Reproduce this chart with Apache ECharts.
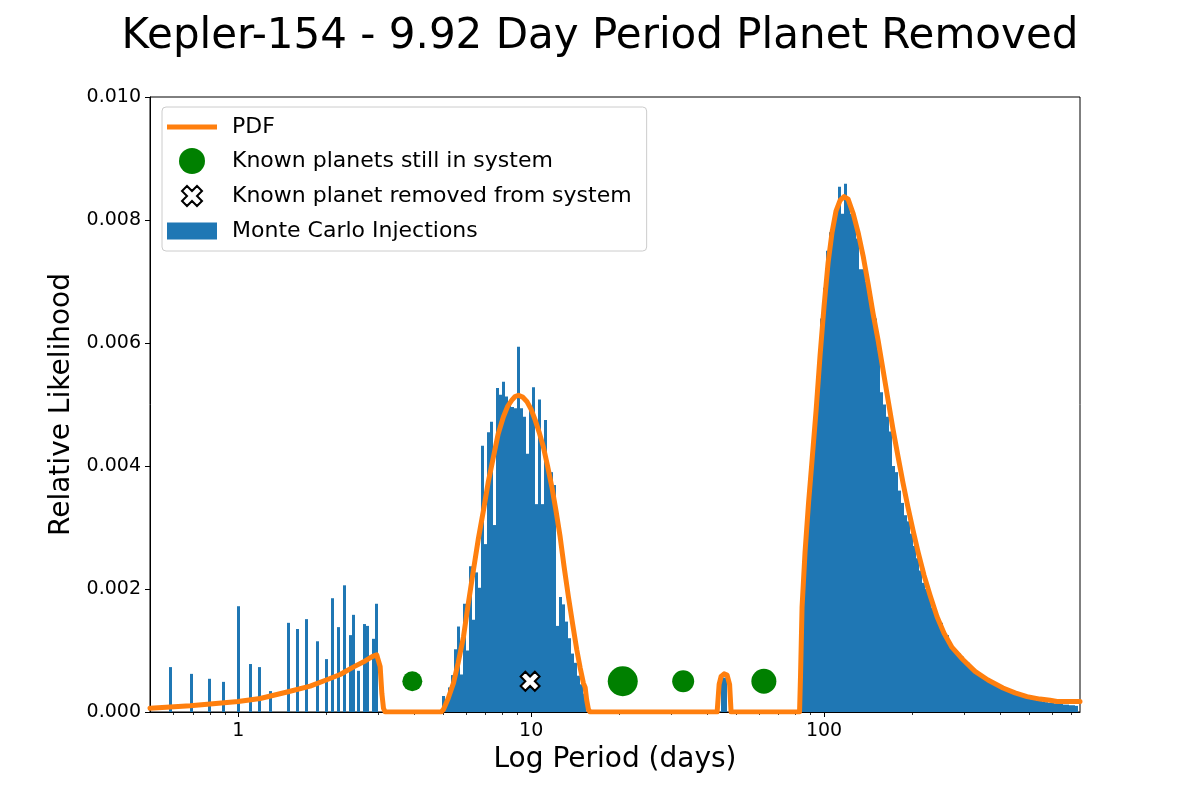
<!DOCTYPE html>
<html><head><meta charset="utf-8">
<script src="https://cdn.jsdelivr.net/npm/echarts@6/dist/echarts.min.js"></script>
<style>html,body{margin:0;padding:0;background:#fff}#chart{width:1200px;height:800px}</style>
</head><body><div id="chart"></div>
<script>
// ---------------- data ----------------
// Histogram bin width in log10(period days)
const BIN_DEX = 0.010239;

// Sparse short-period injections: bin centre period (days) and height
const leftBarPeriods = [0.587, 0.695, 0.798, 0.891, 1.002, 1.102, 1.182, 1.289, 1.485, 1.594, 1.711, 1.865,
  2.001, 2.098, 2.199, 2.306, 2.416, 2.475, 2.574, 2.698, 2.763, 2.896, 2.965];
const leftBarHeights = [0.00073, 0.00062, 0.00054, 0.00049, 0.00172, 0.00078, 0.00073, 0.00034, 0.00145, 0.00135, 0.00151, 0.00115,
  0.00086, 0.00185, 0.00138, 0.00206, 0.00125, 0.00158, 0.00067, 0.00143, 0.00140, 0.00119, 0.00176];

// Contiguous bins around 10 days: left edge of first bin (days) and heights
const midBinStart = 4.969;
const midBarHeights = [0.00026, 0.00020, 0.00040, 0.00060, 0.00102, 0.00139, 0.00061, 0.00176, 0.00100, 0.00237,
  0.00150, 0.00227, 0.00202, 0.00433, 0.00273, 0.00455, 0.00472, 0.00304, 0.00527, 0.00516,
  0.00537, 0.00513, 0.00505, 0.00496, 0.00494, 0.00594, 0.00494, 0.00480, 0.00420, 0.00497,
  0.00528, 0.00338, 0.00508, 0.00338, 0.00475, 0.00400, 0.00390, 0.00369, 0.00140, 0.00187,
  0.00175, 0.00147, 0.00120, 0.00095, 0.00080, 0.00059, 0.00045, 0.00030];

// Small group near 45 days
const bumpBinStart = 44.50;
const bumpBarHeights = [0.00056, 0.00056];

// Contiguous bins around 100 days
const rightBinStart = 82.15;
const rightBarHeights = [0.0009, 0.0020, 0.0030, 0.0034, 0.0041, 0.0048, 0.0055, 0.0064, 0.0069, 0.0075,
  0.0078, 0.0080, 0.0082, 0.00854, 0.0081, 0.00859, 0.0083, 0.0081, 0.0080, 0.0077,
  0.0072, 0.0072, 0.0070, 0.0069, 0.0066, 0.0064, 0.0059, 0.0052, 0.0050, 0.0048,
  0.00456, 0.0040, 0.0039, 0.0036, 0.0034, 0.0032, 0.0031, 0.0029, 0.0027, 0.0025,
  0.0023, 0.0021, 0.0020, 0.0019, 0.0017, 0.0016, 0.0015, 0.00145, 0.0013, 0.00125,
  0.0011, 0.00105, 0.0010, 0.00095, 0.0009, 0.00083, 0.0008, 0.00072, 0.0007, 0.00065,
  0.0006, 0.00055, 0.00054, 0.0005, 0.00048, 0.00044, 0.00042, 0.0004, 0.00037, 0.00035,
  0.00032, 0.0003, 0.00028, 0.00027, 0.00025, 0.00024, 0.00022, 0.00021, 0.0002, 0.00019,
  0.00018, 0.00017, 0.00016, 0.00015, 0.00015, 0.00014, 0.00013, 0.00013, 0.00012, 0.00012,
  0.00011, 0.00011, 0.0001];

// PDF curve
const pdfPeriods = [0.5, 0.5861, 0.6857, 0.8025, 1.0, 1.189, 1.481, 1.761, 1.997, 2.229, 2.470, 2.713, 2.866, 2.970,
  3.052, 3.094, 3.133, 3.175,
  4.930, 5.020, 5.209, 5.431, 5.636, 5.875, 6.097, 6.356, 6.595, 6.876, 7.134, 7.437, 7.716, 8.044, 8.314,
  8.593, 8.819, 9.051, 9.354, 9.668, 10.0, 10.32, 10.65, 11.01, 11.38, 11.77, 12.17, 12.56, 12.96, 13.41,
  13.86, 14.32, 14.70, 15.08, 15.29, 15.47, 15.69, 15.90,
  43.15, 43.83, 44.52, 45.58, 46.67, 47.59, 48.15,
  82.47, 83.12, 84.11, 86.11, 88.51, 91.01, 93.91, 96.91, 100.0, 103.19, 106.49, 109.89, 113.40, 117.03,
  120.78, 125.61, 130.65, 135.88, 141.30, 146.98, 152.86, 159.02, 165.40, 172.02, 178.91, 186.08, 193.54,
  201.30, 209.39, 219.48, 230.03, 243.06, 256.79, 273.42, 298.21, 327.63, 362.74, 408.19, 448.69, 493.03,
  546.0, 590.6, 624.0, 747.6];
const pdfValues = [0.00006, 0.00008, 0.00010, 0.00013, 0.00017, 0.00022, 0.00033, 0.00042, 0.00052, 0.00061, 0.00073, 0.00083, 0.00090, 0.00093,
  0.00074, 0.00030, 0.00006, 0,
  0, 0.00004, 0.00022, 0.00047, 0.00080, 0.00122, 0.00175, 0.00231, 0.00280, 0.00328, 0.00373, 0.00415, 0.00452, 0.00480, 0.00497,
  0.00507, 0.00513, 0.00515, 0.00512, 0.00505, 0.00492, 0.00475, 0.00455, 0.00431, 0.00400, 0.00366, 0.00326, 0.00285, 0.00236, 0.00187,
  0.00143, 0.00101, 0.00072, 0.00047, 0.00040, 0.00020, 0.00004, 0,
  0, 0.00045, 0.00058, 0.00062, 0.00060, 0.00045, 0,
  0, 0.0006, 0.0017, 0.0026, 0.0034, 0.0041, 0.0049, 0.0058, 0.0066, 0.00730, 0.00780, 0.00815, 0.00832, 0.00838,
  0.00834, 0.00811, 0.00780, 0.00742, 0.00697, 0.00648, 0.00605, 0.00556, 0.00507, 0.00459, 0.00415, 0.00372, 0.00332,
  0.00295, 0.00260, 0.00222, 0.00190, 0.00155, 0.00128, 0.00105, 0.00085, 0.00066, 0.00052, 0.00039, 0.00031, 0.00025,
  0.00021, 0.00019, 0.00017, 0.00017];

// Known planets (days)
const planetPeriods = [3.93, 20.55, 33.04, 62.30];
const removedPlanetPeriods = [9.92];
const planetMarkerLevel = 0.0005;

// Axis ticks
const yTicks = [0, 0.002, 0.004, 0.006, 0.008, 0.010];
const xMajorTicks = [1, 10, 100];
const xMinorTicks = [0.6, 0.7, 0.8, 0.9, 2, 3, 4, 5, 6, 7, 8, 9, 20, 30, 40, 50, 60, 70, 80, 90,
  200, 300, 400, 500, 600, 700];

// ---------------- styles ----------------
const planetMarkerSizes = [20, 30, 22, 25];
const FONT = "'DejaVu Sans', sans-serif";
const BLUE = '#1f77b4', ORANGE = '#ff7f0e', GREEN = '#008000';
const X_PATH = 'path://M2.5,0L5,2.5L7.5,0L10,2.5L7.5,5L10,7.5L7.5,10L5,7.5L2.5,10L0,7.5L2.5,5L0,2.5Z';
const X_PATH_LEGEND = 'path://M-1.5,-1.5M11.5,11.5M2.5,0L5,2.5L7.5,0L10,2.5L7.5,5L10,7.5L7.5,10L5,7.5L2.5,10L0,7.5L2.5,5L0,2.5Z';

// build histogram rectangles [leftPeriod, rightPeriod, height]
const histData = [];
leftBarPeriods.forEach((p, i) => {
  const lg = Math.log10(p);
  histData.push([Math.pow(10, lg - BIN_DEX / 2), Math.pow(10, lg + BIN_DEX / 2), leftBarHeights[i]]);
});
function addBins(start, heights) {
  const lg0 = Math.log10(start);
  heights.forEach((h, i) => {
    histData.push([Math.pow(10, lg0 + i * BIN_DEX), Math.pow(10, lg0 + (i + 1) * BIN_DEX), h]);
  });
}
addBins(midBinStart, midBarHeights);
addBins(bumpBinStart, bumpBarHeights);
addBins(rightBinStart, rightBarHeights);

const pdfData = pdfPeriods.map((p, i) => [p, pdfValues[i]]);
const planetData = planetPeriods.map((p, i) => ({ value: [p, planetMarkerLevel], symbolSize: planetMarkerSizes[i] }));
const removedData = removedPlanetPeriods.map(p => [p, planetMarkerLevel]);

const chart = echarts.init(document.getElementById('chart'), null, { renderer: 'canvas' });
const option = {
  animation: false,
  backgroundColor: '#ffffff',
  textStyle: { fontFamily: FONT, color: '#000' },
  title: {
    text: 'Kepler-154 - 9.92 Day Period Planet Removed',
    left: 'center', top: 11,
    textStyle: { fontFamily: FONT, fontSize: 42, fontWeight: 'normal', color: '#000' }
  },
  grid: { left: 150, right: 120, top: 97, bottom: 88, show: true, borderColor: '#000', borderWidth: 1, backgroundColor: 'transparent' },
  legend: {
    orient: 'vertical', left: 162, top: 107,
    padding: [7, 15, 7, 5],
    itemWidth: 50, itemHeight: 26, itemGap: 8,
    symbolKeepAspect: true,
    backgroundColor: 'rgba(255,255,255,0.85)',
    borderColor: '#cccccc', borderWidth: 1, borderRadius: 4,
    textStyle: { fontFamily: FONT, fontSize: 22, lineHeight: 26, color: '#000', padding: [0, 0, 0, 10] },
    data: [
      { name: 'PDF', icon: 'path://M0,0H50V5H0Z', itemStyle: { color: ORANGE, borderWidth: 0 } },
      { name: 'Known planets still in system', icon: 'circle', itemStyle: { color: GREEN, borderWidth: 0 } },
      { name: 'Known planet removed from system', icon: X_PATH_LEGEND, itemStyle: { color: '#fff', borderColor: '#000', borderWidth: 2 } },
      { name: 'Monte Carlo Injections', icon: 'path://M0,0H44V15H0Z', itemStyle: { color: BLUE, borderWidth: 0 } }
    ]
  },
  xAxis: [{
    type: 'log', min: 0.5, max: 747.6, logBase: 10,
    name: 'Log Period (days)', nameLocation: 'middle', nameGap: 33,
    nameTextStyle: { fontFamily: FONT, fontSize: 28, color: '#000' },
    axisLine: { show: true, onZero: false, lineStyle: { color: '#000', width: 1 } },
    axisTick: { show: true, customValues: xMajorTicks, length: 5, lineStyle: { color: '#000', width: 1 } },
    axisLabel: { show: true, customValues: xMajorTicks, fontFamily: FONT, fontSize: 19, color: '#000', margin: 10,
      formatter: v => String(Math.round(v)) },
    splitLine: { show: false }, minorTick: { show: false }
  }, {
    type: 'log', min: 0.5, max: 747.6, logBase: 10, position: 'bottom', gridIndex: 0,
    axisLine: { show: false },
    axisTick: { show: true, customValues: xMinorTicks, length: 3, lineStyle: { color: '#000', width: 0.8 } },
    axisLabel: { show: false },
    splitLine: { show: false }
  }],
  yAxis: {
    type: 'value', min: 0, max: 0.01, interval: 0.002,
    name: 'Relative Likelihood', nameLocation: 'middle', nameGap: 73,
    nameTextStyle: { fontFamily: FONT, fontSize: 28, color: '#000' },
    axisLine: { show: true, lineStyle: { color: '#000', width: 1 } },
    axisTick: { show: true, length: 5, customValues: yTicks, lineStyle: { color: '#000', width: 1 } },
    axisLabel: { fontFamily: FONT, fontSize: 19, color: '#000', margin: 9, formatter: v => v.toFixed(3) },
    splitLine: { show: false }
  },
  series: [
    {
      name: 'Monte Carlo Injections', type: 'custom', xAxisIndex: 0, yAxisIndex: 0,
      encode: { x: [0, 1], y: 2 },
      itemStyle: { color: BLUE },
      data: histData, z: 1,
      renderItem: function (params, api) {
        const a = api.coord([api.value(0), api.value(2)]);
        const b = api.coord([api.value(1), 0]);
        const x0 = Math.round(a[0]), x1 = Math.max(Math.round(b[0]), x0 + 2);
        return { type: 'rect', shape: { x: x0, y: a[1], width: x1 - x0, height: b[1] - a[1] },
          style: { fill: BLUE } };
      }
    },
    {
      name: 'PDF', type: 'line', xAxisIndex: 0, yAxisIndex: 0, data: pdfData, showSymbol: false, symbol: 'none',
      lineStyle: { color: ORANGE, width: 5, join: 'round', cap: 'round' }, itemStyle: { color: ORANGE }, z: 3, clip: true
    },
    {
      name: 'Known planets still in system', type: 'scatter', xAxisIndex: 0, yAxisIndex: 0, data: planetData,
      symbol: 'circle', itemStyle: { color: GREEN, opacity: 1 }, z: 4
    },
    {
      name: 'Known planet removed from system', type: 'scatter', xAxisIndex: 0, yAxisIndex: 0, data: removedData,
      symbol: X_PATH, symbolSize: 19,
      itemStyle: { color: '#ffffff', borderColor: '#000000', borderWidth: 2, opacity: 1 }, z: 5
    }
  ]
};
chart.setOption(option);
</script></body></html>
